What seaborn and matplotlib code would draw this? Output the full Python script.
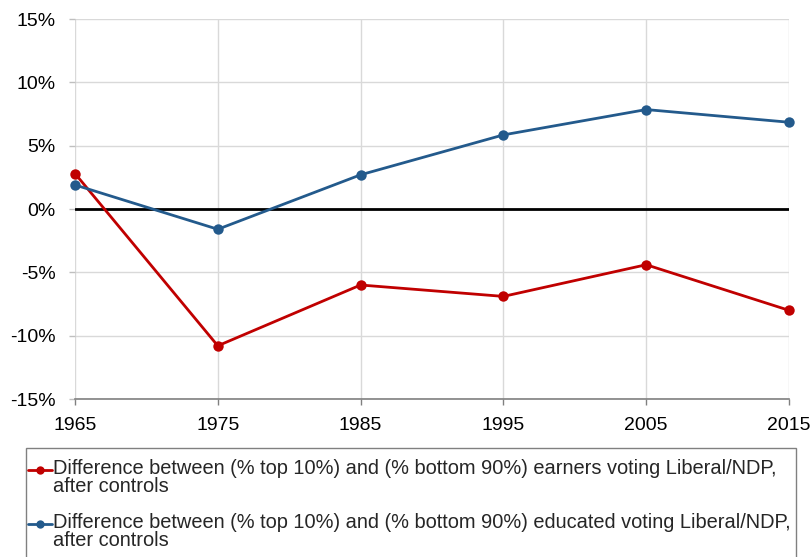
import matplotlib
matplotlib.use("Agg")
import matplotlib.pyplot as plt
import seaborn as sns
import pandas as pd
from matplotlib.lines import Line2D
from matplotlib.patches import Rectangle
from matplotlib.ticker import FuncFormatter

years = [1965, 1975, 1985, 1995, 2005, 2015]
earners = [2.8, -10.8, -6.0, -6.9, -4.4, -8.0]
educated = [1.9, -1.6, 2.7, 5.85, 7.85, 6.85]
labels = [
    ["Difference between (% top 10%) and (% bottom 90%) earners voting Liberal/NDP,",
     "after controls"],
    ["Difference between (% top 10%) and (% bottom 90%) educated voting Liberal/NDP,",
     "after controls"],
]
colors = ["#C00000", "#235A8C"]

df = pd.concat([
    pd.DataFrame({"year": years, "value": earners, "series": "earners"}),
    pd.DataFrame({"year": years, "value": educated, "series": "educated"}),
])

sns.set_theme(style="white")
plt.rcParams["font.family"] = ["Liberation Sans", "DejaVu Sans"]

W, H = 811, 557
fig = plt.figure(figsize=(W / 100, H / 100), dpi=100)
ax = fig.add_axes([75 / W, 1 - 399 / H, 714 / W, 380 / H])

for y in range(-15, 16, 5):
    ax.axhline(y, color="#D9D9D9", lw=1, zorder=0)
for x in years:
    ax.axvline(x, color="#D9D9D9", lw=1, zorder=0)
ax.axhline(0, color="black", lw=2, zorder=1)

sns.lineplot(data=df, x="year", y="value", hue="series", palette=colors,
             marker="o", markersize=7.5, markeredgewidth=0, linewidth=2,
             ax=ax, legend=False, zorder=3, clip_on=False)

ax.set_xlim(1965, 2015)
ax.set_ylim(-15, 15)
ax.set_xticks(years)
ax.set_yticks(range(-15, 16, 5))
ax.yaxis.set_major_formatter(FuncFormatter(lambda v, p: f"{int(v)}%"))
ax.tick_params(axis="both", labelsize=14, labelcolor="black", color="#BFBFBF",
               length=4, width=1, direction="out")
ax.tick_params(axis="y", pad=10)
ax.tick_params(axis="x", pad=9, color="#808080")
ax.yaxis.set_ticks_position("left")
ax.xaxis.set_ticks_position("bottom")
ax.set_xlabel("")
ax.set_ylabel("")
for side in ["top", "right", "left"]:
    ax.spines[side].set_visible(False)
ax.spines["bottom"].set_color("#808080")
ax.spines["bottom"].set_linewidth(1.2)


def fx(px):
    return px / W


def fy(py):
    return 1 - py / H


# legend box, open past the bottom edge
fig.patches.append(Rectangle((fx(26), -0.05), fx(770), 0.05 + fy(448),
                             transform=fig.transFigure, fill=False,
                             edgecolor="#808080", lw=1))

entry_top = [474, 528]
for (line1, line2), color, base in zip(labels, colors, entry_top):
    fig.lines.append(Line2D([fx(28), fx(52)], [fy(base - 4)] * 2,
                            transform=fig.transFigure, color=color, lw=2))
    fig.lines.append(Line2D([fx(40)], [fy(base - 4)], transform=fig.transFigure,
                            color=color, marker="o", markersize=6,
                            markeredgewidth=0))
    fig.text(fx(53), fy(base), line1, fontsize=14.45, va="baseline", ha="left")
    fig.text(fx(53), fy(base + 18), line2, fontsize=14.45, va="baseline", ha="left")

fig.savefig("out.png", dpi=100)
